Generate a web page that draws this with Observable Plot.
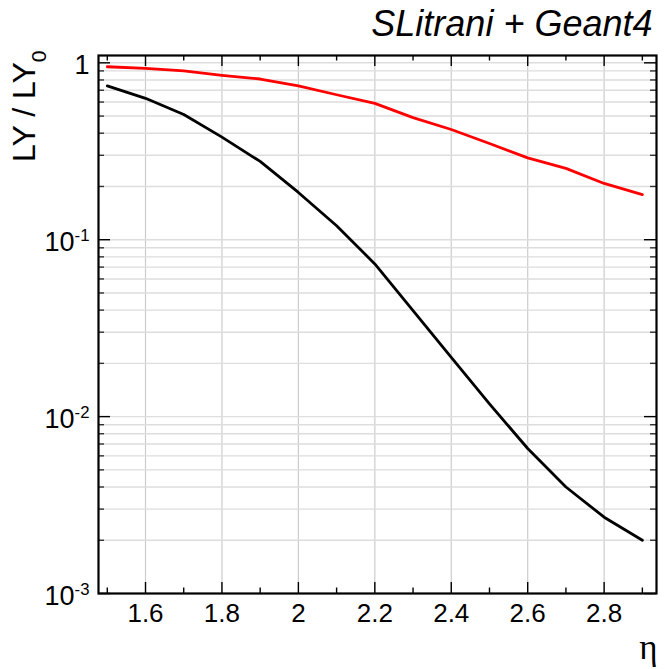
<!DOCTYPE html>
<html>
<head>
<meta charset="utf-8">
<script src="https://cdn.jsdelivr.net/npm/d3@7"></script>
<script src="https://cdn.jsdelivr.net/npm/@observablehq/plot@0.6"></script>
<style>
  body { margin: 0; background: #fff; }
  #chart { width: 665px; height: 669px; }
</style>
</head>
<body>
<div id="chart"></div>
<script>
// ---- data ----
const eta = [1.5, 1.6, 1.7, 1.8, 1.9, 2.0, 2.1, 2.2, 2.3, 2.4, 2.5, 2.6, 2.7, 2.8, 2.9];
const redLY = [0.95, 0.93, 0.90, 0.85, 0.81, 0.74, 0.66, 0.59, 0.49, 0.42, 0.35, 0.29, 0.253, 0.208, 0.18];
const blackLY = [0.74, 0.63, 0.51, 0.38, 0.277, 0.185, 0.12, 0.073, 0.0397, 0.0216, 0.0118, 0.0066, 0.0040, 0.0027, 0.0020];
const xTickValues = [1.6, 1.8, 2.0, 2.2, 2.4, 2.6, 2.8];
const xTickLabels = ["1.6", "1.8", "2", "2.2", "2.4", "2.6", "2.8"];
const xMinorTicks = [1.5, 1.7, 1.9, 2.1, 2.3, 2.5, 2.7, 2.9];
const yDecades = [0.001, 0.01, 0.1, 1];
const yTickLabels = ["10^-3", "10^-2", "10^-1", "1"];
const yMinorMultipliers = [2, 3, 4, 5, 6, 7, 8, 9];
const titleText = "SLitrani + Geant4";
const xLabelText = "η";
const yLabelMain = "LY / LY";
const yLabelSub = "0";

// ---- layout ----
const W = 665, H = 669, mL = 98, mR = 9, mT = 55, mB = 76;
const iw = W - mL - mR, ih = H - mT - mB;

const yMinor = yDecades.slice(0, 3).flatMap(d => yMinorMultipliers.map(m => m * d));
const yGrid = [...yDecades, ...yMinor];

const redRows = eta.map((e, i) => ({eta: e, v: redLY[i]}));
const blackRows = eta.map((e, i) => ({eta: e, v: blackLY[i]}));

const font = "'Liberation Sans', Arial, Helvetica, sans-serif";

const chart = Plot.plot({
  width: W, height: H,
  marginLeft: mL, marginRight: mR, marginTop: mT, marginBottom: mB,
  style: {fontFamily: font, background: "white", color: "black", overflow: "visible"},
  x: {domain: [1.477, 2.937]},
  y: {type: "log", domain: [0.001, 1.1]},
  marks: [
    // grid
    Plot.ruleX(xTickValues, {stroke: "#cccccc", strokeWidth: 1.2}),
    Plot.ruleY(yGrid, {stroke: "#dddddd", strokeWidth: 1.4}),
    // curves
    Plot.line(blackRows, {x: "eta", y: "v", stroke: "#000000", strokeWidth: 2.8}),
    Plot.line(redRows, {x: "eta", y: "v", stroke: "#ff0000", strokeWidth: 2.8}),
    // ticks (inward, bottom/top)
    Plot.ruleX(xTickValues, {insetTop: ih - 11, stroke: "black", strokeWidth: 1.4}),
    Plot.ruleX(xTickValues, {insetBottom: ih - 11, stroke: "black", strokeWidth: 1.4}),
    Plot.ruleX(xMinorTicks, {insetTop: ih - 5.5, stroke: "black", strokeWidth: 1.4}),
    Plot.ruleX(xMinorTicks, {insetBottom: ih - 5.5, stroke: "black", strokeWidth: 1.4}),
    // ticks (inward, left/right)
    Plot.ruleY(yDecades, {insetRight: iw - 12, stroke: "black", strokeWidth: 1.4}),
    Plot.ruleY(yDecades, {insetLeft: iw - 12, stroke: "black", strokeWidth: 1.4}),
    Plot.ruleY(yMinor, {insetRight: iw - 6, stroke: "#333", strokeWidth: 1.4}),
    Plot.ruleY(yMinor, {insetLeft: iw - 6, stroke: "#333", strokeWidth: 1.4}),
    Plot.frame({stroke: "black", strokeWidth: 2.2}),
    // axes labels
    Plot.axisX(xTickValues, {tickSize: 0, tickPadding: 10, fontSize: 26, label: null,
      tickFormat: d => xTickLabels[xTickValues.indexOf(d)]}),
    Plot.axisY(yDecades, {tickSize: 0, tickPadding: 9, fontSize: 27, label: null, dy: 3,
      tickFormat: d => yTickLabels[yDecades.indexOf(d)]}),
    // titles
    Plot.text([titleText], {frameAnchor: "top-right", textAnchor: "end", lineAnchor: "middle",
      dx: -4, dy: -31, fontSize: 36, fontStyle: "italic", fill: "black"}),
    Plot.text([xLabelText], {frameAnchor: "bottom-right", textAnchor: "end", lineAnchor: "middle",
      dx: 1, dy: 54, fontSize: 35, fill: "black", fontFamily: "'Liberation Serif', 'DejaVu Serif', serif"}),
    Plot.text([yLabelMain + yLabelSub], {frameAnchor: "top-left", textAnchor: "end", lineAnchor: "middle",
      rotate: -90, dx: -74, dy: -5, fontSize: 32, fill: "black"})
  ]
});

// superscripts / subscripts as real text
d3.select(chart).selectAll("text").each(function () {
  const t = this.textContent;
  const m = /^10\^(-?\d+)$/.exec(t);
  if (m) {
    const sel = d3.select(this);
    sel.text("10");
    sel.append("tspan").attr("dy", "-0.6em").attr("font-size", "0.62em").text(m[1]);
  } else if (t === yLabelMain + yLabelSub) {
    const sel = d3.select(this);
    sel.text(yLabelMain);
    sel.append("tspan").attr("dy", "0.55em").attr("font-size", "0.66em").text(yLabelSub);
  }
});

document.getElementById("chart").appendChild(chart);
</script>
</body>
</html>
